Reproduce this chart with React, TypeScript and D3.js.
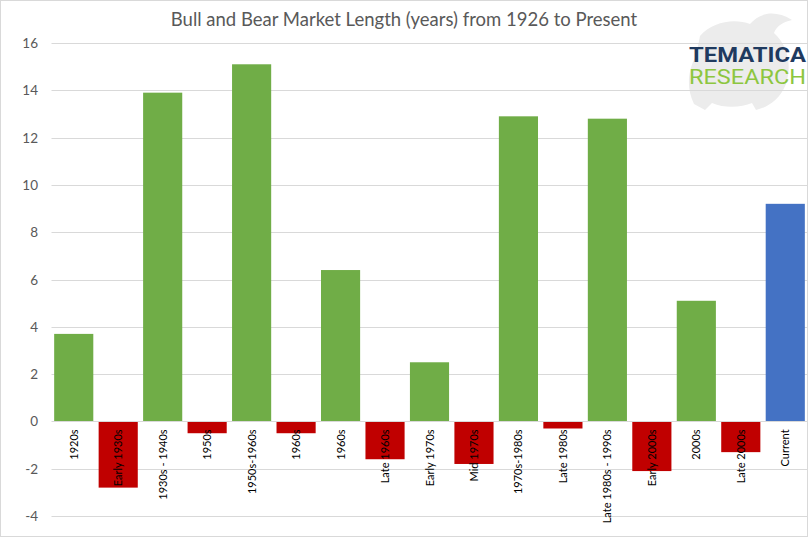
import { useEffect, useRef } from "react";
import * as d3 from "d3";

const categories = [
  "1920s",
  "Early 1930s",
  "1930s - 1940s",
  "1950s",
  "1950s-1960s",
  "1960s",
  "1960s",
  "Late 1960s",
  "Early 1970s",
  "Mid 1970s",
  "1970s-1980s",
  "Late 1980s",
  "Late 1980s - 1990s",
  "Early 2000s",
  "2000s",
  "Late 2000s",
  "Current",
];
const values = [3.7, -2.8, 13.9, -0.5, 15.1, -0.5, 6.4, -1.6, 2.5, -1.8, 12.9, -0.3, 12.8, -2.1, 5.1, -1.3, 9.2];
const kinds = ["bull", "bear", "bull", "bear", "bull", "bear", "bull", "bear", "bull", "bear", "bull", "bear", "bull", "bear", "bull", "bear", "current"];
const yTicks = [-4, -2, 0, 2, 4, 6, 8, 10, 12, 14, 16];

const colors: Record<string, string> = {
  bull: "#70ad47",
  bear: "#c00000",
  current: "#4472c4",
};

export default function App() {
  const svgRef = useRef<SVGSVGElement>(null);

  useEffect(() => {
    if (!svgRef.current) return;
    const width = 808;
    const height = 537;
    const margin = { top: 43, right: 0.5, bottom: 21, left: 51.5 };

    d3.select(svgRef.current).selectAll("*").remove();
    const svg = d3.select(svgRef.current).attr("width", width).attr("height", height);

    // chart frame
    svg
      .append("rect")
      .attr("x", 0.5)
      .attr("y", 0.5)
      .attr("width", width - 1)
      .attr("height", height - 1)
      .attr("fill", "#fff")
      .attr("stroke", "#d9d9d9");

    const x = d3
      .scaleBand<number>()
      .domain(categories.map((_, i) => i))
      .range([margin.left, width - margin.right])
      .paddingInner(0.12)
      .paddingOuter(0.06);

    const y = d3.scaleLinear().domain([-4, 16]).range([height - margin.bottom, margin.top]);

    // logo with faint bull silhouette
    const logo = svg.append("g").attr("font-family", "'Liberation Sans Narrow', 'Roboto', sans-serif");
    logo
      .append("path")
      .attr(
        "d",
        "M700,36 C712,22 734,18 750,24 C760,12 776,10 792,20 C782,22 776,27 774,33 C788,46 792,64 786,84 C780,100 766,108 756,110 L752,103 C742,107 726,109 712,103 L705,110 L694,104 C686,88 688,70 696,56 Z"
      )
      .attr("fill", "#ececec");
    logo
      .append("text")
      .attr("x", 806)
      .attr("y", 62)
      .attr("text-anchor", "end")
      .attr("font-size", 21)
      .attr("font-weight", "bold")
      .attr("textLength", 117)
      .attr("lengthAdjust", "spacingAndGlyphs")
      .attr("fill", "#1f3a5f")
      .text("TEMATICA");
    logo
      .append("text")
      .attr("x", 806)
      .attr("y", 84)
      .attr("text-anchor", "end")
      .attr("font-size", 21)
      .attr("textLength", 117)
      .attr("lengthAdjust", "spacingAndGlyphs")
      .attr("fill", "#8dc63f")
      .text("RESEARCH");

    // gridlines
    svg
      .append("g")
      .selectAll("line")
      .data(yTicks.filter((t) => t !== 0))
      .join("line")
      .attr("x1", margin.left)
      .attr("x2", width - margin.right)
      .attr("y1", (d) => Math.round(y(d)) + 0.5)
      .attr("y2", (d) => Math.round(y(d)) + 0.5)
      .attr("stroke", "#d9d9d9");

    // y axis labels
    svg
      .append("g")
      .selectAll("text")
      .data(yTicks)
      .join("text")
      .attr("x", 38)
      .attr("y", (d) => y(d) + 5)
      .attr("text-anchor", "end")
      .attr("font-family", "Lato, sans-serif")
      .attr("font-size", 13.5)
      .attr("fill", "#595959")
      .text((d) => d);

    // bars
    svg
      .append("g")
      .selectAll("rect")
      .data(values)
      .join("rect")
      .attr("x", (_, i) => x(i)!)
      .attr("width", x.bandwidth())
      .attr("y", (d) => y(Math.max(0, d)))
      .attr("height", (d) => Math.abs(y(d) - y(0)))
      .attr("fill", (_, i) => colors[kinds[i]]);

    // zero line
    svg
      .append("line")
      .attr("x1", margin.left)
      .attr("x2", width - margin.right)
      .attr("y1", Math.round(y(0)) + 0.5)
      .attr("y2", Math.round(y(0)) + 0.5)
      .attr("stroke", "#d9d9d9");

    // category labels
    svg
      .append("g")
      .selectAll("text")
      .data(categories)
      .join("text")
      .attr("transform", (_, i) => `translate(${x(i)! + x.bandwidth() / 2 + 4},${y(0) + 8}) rotate(-90)`)
      .attr("text-anchor", "end")
      .attr("font-family", "Lato, sans-serif")
      .attr("font-size", 11)
      .attr("fill", "#000")
      .text((d) => d);

    // title
    svg
      .append("text")
      .attr("x", 404)
      .attr("y", 26)
      .attr("text-anchor", "middle")
      .attr("font-family", "Lato, sans-serif")
      .attr("font-size", 18.5)
      .attr("fill", "#595959")
      .text("Bull and Bear Market Length (years) from 1926 to Present");
  }, []);

  return <svg ref={svgRef} style={{ position: "absolute", left: 0, top: 0 }} />;
}
